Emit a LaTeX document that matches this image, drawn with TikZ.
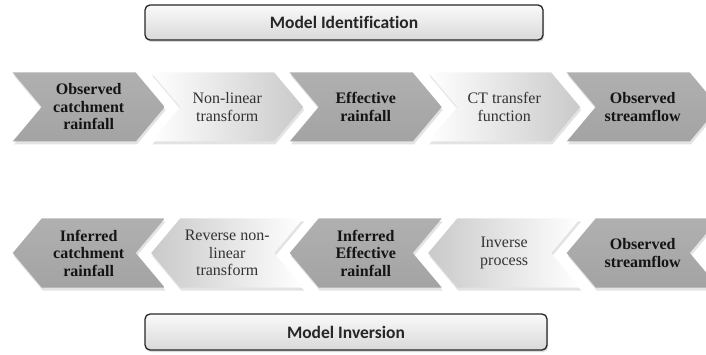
\documentclass[tikz,border=0pt]{standalone}
\usepackage{fontspec}
\setmainfont{Liberation Serif}
\newfontfamily\boxfont[Ligatures=NoCommon]{Carlito}
\usetikzlibrary{shapes.symbols,shadows}

\begin{document}
\begin{tikzpicture}[x=1pt, y=-1pt, line join=bevel]
	\tikzstyle{chevron} = [shape=signal, signal pointer angle=100, minimum width=152pt, minimum height=69pt, inner sep=0pt, align=center, drop shadow={opacity=0.22, shadow xshift=1pt, shadow yshift=-3pt}];
	\tikzstyle{fwd} = [chevron, signal to=east, signal from=west];
	\tikzstyle{bwd} = [chevron, signal to=west, signal from=east];
	\tikzstyle{dark} = [top color=gray!62, bottom color=gray!72, text=black!92, font=\fontsize{16}{17.5}\selectfont\bfseries];
	\tikzstyle{light} = [text=black!80, font=\fontsize{16}{17.5}\selectfont];
	\tikzstyle{title} = [draw=black!85, line width=1.3pt, rounded corners=5pt, top color=gray!4, bottom color=gray!30, text=black!85, font=\boxfont\fontsize{17.5}{19}\selectfont\bfseries, drop shadow={opacity=0.3, shadow xshift=1pt, shadow yshift=-2pt}];

	\useasboundingbox (0,0) rectangle (706,355);

	\node[title, minimum width=398pt, minimum height=35pt] at (344,22.5) (ident) {Model Identification};

	\node[fwd, dark] at (88.7,107) (obsrain) {Observed\\catchment\\rainfall};
	\node[fwd, light, left color=white, right color=gray!42] at (227.2,107) (nonlin) {Non-linear\\transform};
	\node[fwd, dark] at (365.7,107) (effrain) {Effective\\rainfall};
	\node[fwd, light, left color=white, right color=gray!42] at (504.2,107) (ctfun) {CT transfer\\function};
	\node[fwd, dark] at (642.7,107) (obsflow) {Observed\\streamflow};

	\node[bwd, dark] at (88.7,253) (infrain) {Inferred\\catchment\\rainfall};
	\node[bwd, light, left color=gray!42, right color=white] at (227.2,253) (revlin) {Reverse non-\\linear\\transform};
	\node[bwd, dark] at (365.7,253) (infeff) {Inferred\\Effective\\rainfall};
	\node[bwd, light, left color=gray!42, right color=white] at (504.2,253) (invproc) {Inverse\\process};
	\node[bwd, dark] at (642.7,253) (obsflow2) {Observed\\streamflow};

	\node[title, minimum width=402pt, minimum height=36pt] at (346,332) (inv) {Model Inversion};
\end{tikzpicture}
\end{document}
